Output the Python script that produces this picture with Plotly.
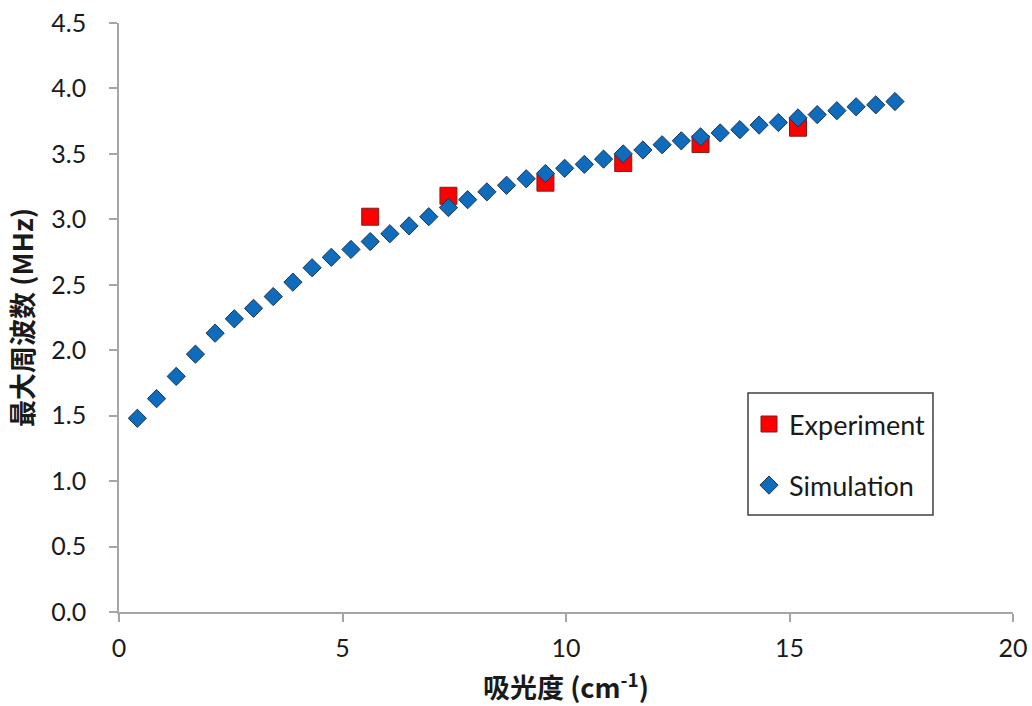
import plotly.graph_objects as go

# Simulated maximum frequency vs. absorbance
sim_x = [0.41, 0.84, 1.28, 1.71, 2.15, 2.58, 3.01, 3.45, 3.89, 4.32, 4.75, 5.19,
         5.62, 6.06, 6.49, 6.93, 7.37, 7.80, 8.23, 8.67, 9.11, 9.54, 9.97, 10.41,
         10.84, 11.28, 11.72, 12.15, 12.58, 13.01, 13.45, 13.89, 14.32, 14.75,
         15.19, 15.62, 16.06, 16.49, 16.93, 17.36]
sim_y = [1.48, 1.63, 1.80, 1.97, 2.13, 2.24, 2.32, 2.41, 2.52, 2.63, 2.71, 2.77,
         2.83, 2.89, 2.95, 3.02, 3.09, 3.15, 3.21, 3.26, 3.31, 3.35, 3.39, 3.42,
         3.46, 3.50, 3.53, 3.57, 3.60, 3.63, 3.66, 3.685, 3.72, 3.74, 3.775, 3.80,
         3.83, 3.86, 3.875, 3.90]

# Measured maximum frequency
exp_x = [5.62, 7.37, 9.54, 11.28, 13.01, 15.19]
exp_y = [3.02, 3.18, 3.28, 3.43, 3.575, 3.70]

TICK_FONT = dict(family="Lato, Open Sans, sans-serif", size=25, color="#1A1A1A")
TITLE_FONT = dict(family="Noto Sans CJK SC", size=27, color="#1A1A1A", weight="bold")

fig = go.Figure()
fig.add_trace(go.Scatter(
    x=exp_x, y=exp_y, mode="markers", name="Experiment", legendgroup="exp",
    marker=dict(symbol="square", size=17, color="#FF0000",
                line=dict(color="#7A1F1F", width=1)),
))
fig.add_trace(go.Scatter(
    x=sim_x, y=sim_y, mode="markers", name="Simulation", legendgroup="sim",
    marker=dict(symbol="diamond", size=14, color="#0F6CBD",
                line=dict(color="#1C3552", width=1)),
))

axis_common = dict(
    showgrid=False, zeroline=False, showline=True, linecolor="#A6A6A6",
    linewidth=1.5, ticks="outside", ticklen=8, tickcolor="#A6A6A6",
    tickwidth=1.5, tickfont=TICK_FONT, automargin=False,
)

# Framed legend box
fig.add_shape(type="rect", xref="paper", yref="paper",
              x0=0.7036, x1=0.9105, y0=0.1647, y1=0.3718,
              line=dict(color="#404040", width=1.5), fillcolor="white",
              layer="above")

fig.update_layout(
    width=1032, height=706,
    margin=dict(l=119, r=19, t=23, b=94),
    paper_bgcolor="white", plot_bgcolor="white",
    xaxis=dict(range=[0, 20], dtick=5, tickformat="d", ticklabelstandoff=5,
               title=dict(text="吸光度 (cm<sup>-1</sup>)", standoff=22,
                          font=TITLE_FONT),
               **axis_common),
    yaxis=dict(range=[0, 4.5], dtick=0.5, tickformat=".1f", ticklabelstandoff=18,
               title=dict(text="最大周波数 (MHz)", standoff=10, font=TITLE_FONT),
               **axis_common),
    legend=dict(
        x=0.7047, y=0.36, xanchor="left", yanchor="top",
        bgcolor="rgba(0,0,0,0)", borderwidth=0,
        font=dict(family="Lato, Open Sans, sans-serif", size=27, color="#1A1A1A"),
        tracegroupgap=23, itemsizing="trace",
    ),
    showlegend=True,
)

fig.write_html("out.html")
